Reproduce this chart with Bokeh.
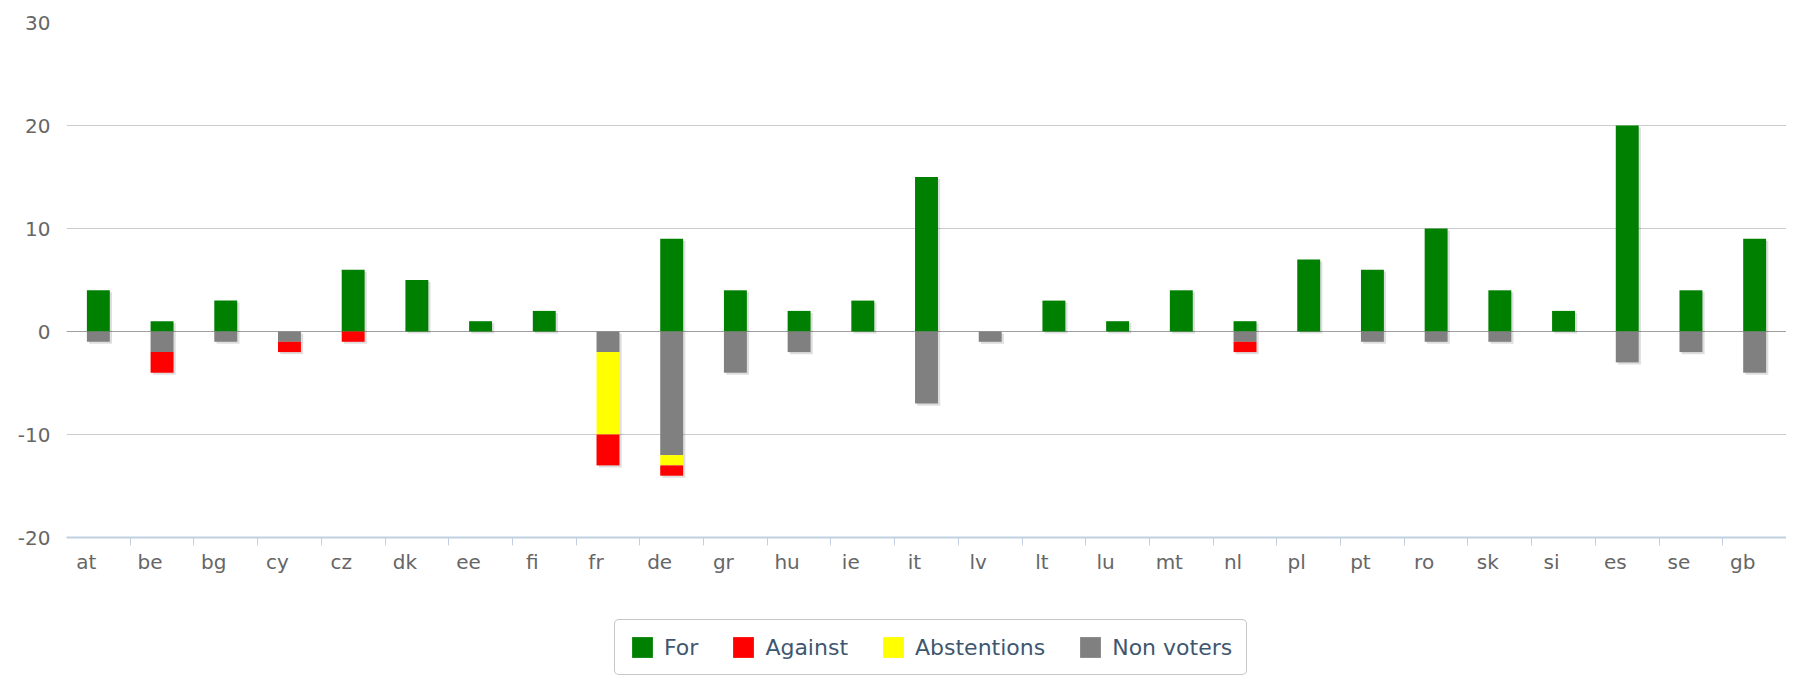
from bokeh.plotting import figure
from bokeh.layouts import column
from bokeh.models import (Range1d, FixedTicker, Legend, LegendItem, Span,
                          ColumnDataSource, LinearAxis)
from bokeh.embed import file_html
from bokeh.resources import INLINE

countries = ["at", "be", "bg", "cy", "cz", "dk", "ee", "fi", "fr", "de", "gr",
             "hu", "ie", "it", "lv", "lt", "lu", "mt", "nl", "pl", "pt", "ro",
             "sk", "si", "es", "se", "gb"]
for_votes = [4, 1, 3, 0, 6, 5, 1, 2, 0, 9, 4, 2, 3, 15, 0, 3, 1, 4, 1, 7, 6, 10,
             4, 2, 20, 4, 9]
against = [0, -2, 0, -1, -1, 0, 0, 0, -3, -1, 0, 0, 0, 0, 0, 0, 0, 0, -1, 0, 0,
           0, 0, 0, 0, 0, 0]
abstentions = [0, 0, 0, 0, 0, 0, 0, 0, -8, -1, 0, 0, 0, 0, 0, 0, 0, 0, 0, 0, 0,
               0, 0, 0, 0, 0, 0]
non_voters = [-1, -2, -1, -1, 0, 0, 0, 0, -2, -12, -4, -2, 0, -7, -1, 0, 0, 0,
              -1, 0, -1, -1, -1, 0, -3, -2, -4]
y_ticks = [-20, -10, 0, 10, 20, 30]

series_names = ["For", "Against", "Abstentions", "Non voters"]
colors = {"For": "#008000", "Against": "#FF0000", "Abstentions": "#FFFF00",
          "Non voters": "#808080"}

n = len(countries)
xs = [i + 0.5 for i in range(n)]
bar_w = 0.36
lows = [nv + ab + ag for nv, ab, ag in zip(non_voters, abstentions, against)]

src = ColumnDataSource(dict(
    x=xs, country=countries, f=for_votes, ag=against, ab=abstentions,
    nv=non_voters,
    sh_left=[x - bar_w / 2 + 0.035 for x in xs],
    sh_right=[x + bar_w / 2 + 0.035 for x in xs],
    sh_top=[t - 0.2 for t in for_votes],
    sh_bottom=[b - 0.2 for b in lows],
))

FONT = "DejaVu Sans"
W = 1786

p = figure(width=W, height=581, x_range=Range1d(0, n),
           y_range=Range1d(-20, 30), output_backend="svg",
           toolbar_location=None, x_axis_location=None,
           min_border_left=66, min_border_right=0, min_border_top=22,
           min_border_bottom=44)
p.outline_line_color = None
p.background_fill_color = "white"
p.border_fill_color = "white"

for g in p.xgrid:
    g.visible = False
p.ygrid.grid_line_color = "#CCCCCC"
p.ygrid.grid_line_width = 1

yax = p.yaxis[0]
yax.ticker = FixedTicker(ticks=y_ticks)
yax.major_label_overrides = {t: str(t) for t in y_ticks}
yax.axis_line_color = None
yax.major_tick_line_color = None
yax.minor_tick_line_color = None
yax.major_tick_out = 0
yax.major_tick_in = 0
yax.major_label_standoff = 16
yax.major_label_text_font = FONT
yax.major_label_text_font_size = "20px"
yax.major_label_text_color = "#666666"

# label axis, shifted slightly left like the reference
d = 12 / 63.7
p.extra_x_ranges = {"lab": Range1d(d - 0.5, n + d - 0.5)}
xax = LinearAxis(x_range_name="lab",
                 ticker=FixedTicker(ticks=list(range(n)),
                                    minor_ticks=[i + d - 0.5 for i in range(1, n + 1)]),
                 major_label_overrides={i: c for i, c in enumerate(countries)})
xax.axis_line_color = "#C0D0E0"
xax.axis_line_width = 2
xax.major_tick_line_color = None
xax.major_tick_out = 0
xax.major_tick_in = 0
xax.minor_tick_line_color = "#C0D0E0"
xax.minor_tick_line_width = 1
xax.minor_tick_out = 8
xax.minor_tick_in = 0
xax.major_label_standoff = 4
xax.major_label_text_font = FONT
xax.major_label_text_font_size = "20px"
xax.major_label_text_color = "#666666"
p.add_layout(xax, "below")

p.add_layout(Span(location=0, dimension="width", line_color="#A0A0A0",
                  line_width=1, level="underlay"))

# soft shadow
p.quad(left="sh_left", right="sh_right", top="sh_top", bottom="sh_bottom",
       source=src, fill_color="#000000", fill_alpha=0.13, line_color=None)

p.vbar(x="x", top="f", bottom=0, width=bar_w, source=src,
       fill_color=colors["For"], line_color=None)
p.vbar_stack(["nv", "ab", "ag"], x="x", width=bar_w, source=src,
             fill_color=[colors["Non voters"], colors["Abstentions"],
                         colors["Against"]],
             line_color=None)

# legend strip below the chart
lg = figure(width=W, height=95, x_range=Range1d(0, 1), y_range=Range1d(0, 1),
            output_backend="svg", toolbar_location=None,
            x_axis_location=None, y_axis_location=None,
            min_border_left=66, min_border_right=0, min_border_top=0,
            min_border_bottom=0)
lg.outline_line_color = None
lg.grid.visible = False
lg.background_fill_color = "white"
lg.border_fill_color = "white"

items = []
for name in series_names:
    # zero-height key bar, only used to draw the legend swatch
    r = lg.vbar(x=[0.5], top=[0], bottom=[0], width=0.1,
                fill_color=colors[name], line_color=None)
    items.append(LegendItem(label=name, renderers=[r]))

legend = Legend(items=items, orientation="horizontal", location=(548, 1))
legend.margin = 0
legend.padding = 14
legend.spacing = 32
legend.glyph_width = 26
legend.glyph_height = 26
legend.label_standoff = 9
legend.label_text_font = FONT
legend.label_text_font_size = "22px"
legend.label_text_color = "#3E576F"
legend.border_line_color = "#909090"
legend.border_line_width = 1
legend.border_radius = 5
legend.background_fill_color = "white"
legend.background_fill_alpha = 1
lg.add_layout(legend, "center")

layout = column(p, lg, spacing=0)
open("out.html", "w").write(file_html(layout, INLINE))
